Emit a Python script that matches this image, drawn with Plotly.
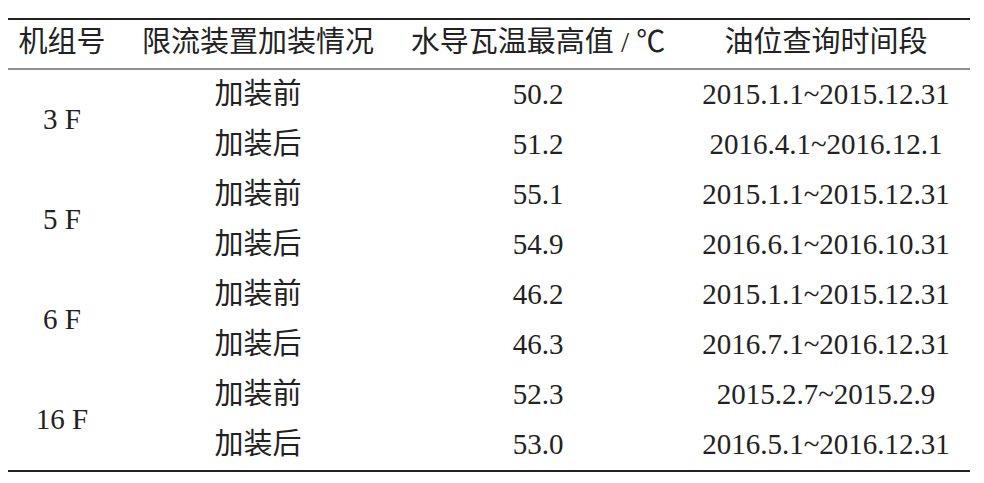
import plotly.graph_objects as go

headers = ["机组号", "限流装置加装情况", "水导瓦温最高值 / ℃", "油位查询时间段"]
units = ["3 F", "5 F", "6 F", "16 F"]
states = ["加装前", "加装后"] * 4
temps = ["50.2", "51.2", "55.1", "54.9", "46.2", "46.3", "52.3", "53.0"]
periods = ["2015.1.1~2015.12.31", "2016.4.1~2016.12.1",
           "2015.1.1~2015.12.31", "2016.6.1~2016.10.31",
           "2015.1.1~2015.12.31", "2016.7.1~2016.12.31",
           "2015.2.7~2015.2.9", "2016.5.1~2016.12.31"]

W, H = 984, 483
colx = [62, 258, 538, 826]
header_y = 44
row0, dy = 96, 50
font = dict(family="Liberation Serif, Noto Sans CJK SC", size=29, color="#222")

fig = go.Figure()
fig.add_trace(go.Scatter(x=colx, y=[header_y]*4, text=headers, mode="text",
                         textfont=font, hoverinfo="skip"))
rows_y = [row0 + i*dy for i in range(len(states))]
fig.add_trace(go.Scatter(x=[colx[0]]*len(units),
                         y=[row0 + dy*(2*i + 0.5) for i in range(len(units))],
                         text=units, mode="text", textfont=font, hoverinfo="skip"))
for c, vals in zip(colx[1:], [states, temps, periods]):
    fig.add_trace(go.Scatter(x=[c]*len(vals), y=rows_y, text=vals, mode="text",
                             textfont=font, hoverinfo="skip"))

for y, w in [(18, 2), (68, 1.2), (470, 2)]:
    fig.add_shape(type="line", x0=0, x1=970, y0=y, y1=y, line=dict(color="#222", width=w))

fig.update_layout(width=W, height=H, margin=dict(l=0, r=0, t=0, b=0),
                  plot_bgcolor="white", paper_bgcolor="white", showlegend=False,
                  xaxis=dict(range=[8, W + 8], visible=False, fixedrange=True),
                  yaxis=dict(range=[H + 7, 7], visible=False, fixedrange=True))
fig.write_html("out.html")
